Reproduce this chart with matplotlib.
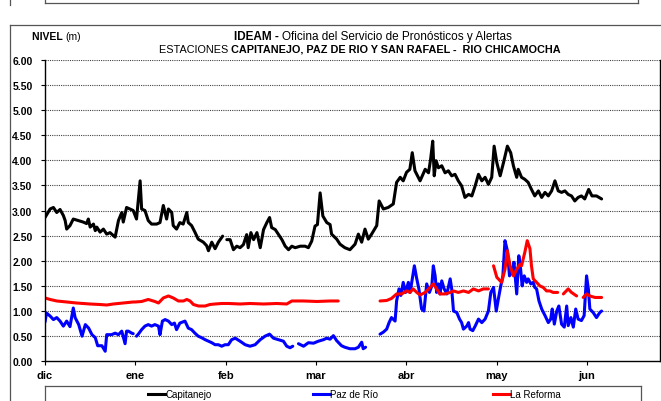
import numpy as np
import matplotlib
matplotlib.use("Agg")
import matplotlib.pyplot as plt
from matplotlib.lines import Line2D

NARROW = ["Liberation Sans Narrow", "Liberation Sans", "DejaVu Sans"]
plt.rcParams["font.family"] = ["Liberation Sans", "DejaVu Sans"]

nan = np.nan

# --- data: day counted from 1 December, level in metres (nan = no data) ---
cap_day = [0, 1.7, 2.8, 3.9, 5, 6.1, 6.7, 7.2, 8.3, 9.4, 11.1, 12.7, 13.8, 14.4, 15,
           16.1, 16.7, 17.2, 18.3, 19.4, 20.5, 21.6, 23.3, 24.4, 25.5, 26, 27.1, 28.2,
           29.3, 30.4, 31.6, 32.1, 33.2, 34.3, 35.4, 37.1, 38.2, 39.3, 40.4, 41, 42.1,
           42.6, 43.7, 44.8, 45.9, 47.1, 47.6, 48.7, 49.8, 50.9, 52.6, 53.7, 54.3, 55.4,
           56.5, 57.6, 59.0, 59.7, 60.4, 61.5, 62.6, 63.7, 64.8, 65.9, 67, 67.5, 68.4,
           69.3, 70.4, 71.5, 72.6, 73.7, 74.6, 75.3, 76.5, 77.6, 78.7, 79.8, 80.9, 82,
           83.1, 84.8, 86.4, 87.5, 88.6, 89.7, 90.5, 91.4, 92.3, 93.6, 94.7, 95.2, 96.9,
           98, 99.6, 101.3, 103, 104.1, 105.2, 106.3, 107.4, 108.5, 110.2, 111, 112.4,
           114, 115.7, 116.8, 118, 119, 120.1, 121.2, 122, 122.9, 124.6, 126.3, 127.4,
           128.1, 128.8, 129.3, 129.9, 130.7, 131.8, 132.9, 134, 135.1, 136.2, 137.3,
           138.4, 139.5, 140.7, 141.8, 142.9, 144, 145.1, 146.2, 147.3, 148.4, 149.2,
           150.1, 151.2, 152.3, 153.6, 154.7, 155.6, 156.7, 157.2, 158.3, 159.4, 160.5,
           161.6, 162.7, 163.9, 165, 166.1, 167.2, 168.3, 169.4, 170.5, 171.6, 172.7,
           173.8, 174.9, 176, 177.1, 178.2, 179.3, 180.6, 181.7, 183.2, 184.9]
cap_val = [2.86, 3.03, 3.06, 2.96, 3.02, 2.9, 2.8, 2.63, 2.70, 2.83, 2.80, 2.77, 2.74,
           2.83, 2.67, 2.73, 2.6, 2.67, 2.57, 2.63, 2.53, 2.56, 2.47, 2.8, 2.96, 2.77,
           3.06, 3.03, 3.0, 2.83, 3.59, 3.03, 3.0, 2.80, 2.73, 2.73, 2.76, 3.1, 2.83,
           3.03, 2.96, 2.7, 2.63, 2.76, 2.73, 2.96, 2.76, 2.7, 2.57, 2.43, 2.37, 2.30,
           2.2, 2.37, 2.24, 2.37, 2.49, nan, 2.42, 2.42, 2.22, 2.29, 2.26, 2.32, 2.52,
           2.26, 2.56, 2.42, 2.56, 2.26, 2.62, 2.76, 2.86, 2.66, 2.62, 2.52, 2.42, 2.29,
           2.22, 2.29, 2.26, 2.29, 2.29, 2.26, 2.39, 2.69, 2.72, 3.35, 2.89, 2.76, 2.72,
           2.53, 2.43, 2.33, 2.26, 2.22, 2.33, 2.53, 2.37, 2.63, 2.43, 2.53, 2.7, 3.19,
           3.03, 3.06, 3.13, 3.56, 3.66, 3.59, 3.76, 3.82, 4.15, 3.79, 3.59, 3.82, 3.75,
           4.02, 4.38, 3.69, 3.99, 3.85, 3.89, 3.75, 3.79, 3.69, 3.72, 3.59, 3.49, 3.26,
           3.32, 3.29, 3.49, 3.72, 3.59, 3.66, 3.52, 3.66, 4.28, 3.95, 3.69, 3.95, 4.28,
           4.15, 3.89, 3.66, 3.82, 3.66, 3.62, 3.56, 3.42, 3.29, 3.39, 3.26, 3.36, 3.29,
           3.39, 3.59, 3.39, 3.36, 3.39, 3.32, 3.29, 3.19, 3.26, 3.29, 3.23, 3.42, 3.29,
           3.29, 3.23]

paz_day = [0, 0.5, 1.7, 2.8, 3.9, 5, 6.1, 7.2, 8.3, 9.4, 10, 11.2, 12.3, 13.4, 14.5,
           15.6, 16.7, 17.5, 18.9, 20, 20.5, 22.1, 23.3, 24.4, 25.5, 26.6, 27.1, 27.7,
           28.8, 29.3, 29.8, 30.4, 31, 32.1, 33.2, 34.3, 35.4, 36.5, 37.7, 38.2, 39,
           39.9, 41, 42.1, 43, 43.7, 44.8, 46.5, 47.6, 48.7, 49.8, 50.9, 52, 53.2, 54.3,
           55.4, 56.5, 57.6, 58.7, 59.8, 60.9, 62, 63.2, 64.8, 66.5, 68.1, 69.8, 71.5,
           73.1, 74.6, 75.9, 77.6, 79.2, 80.3, 81.4, 82.3, 83.2, 84.2, 85.9, 87.5, 89.2,
           90.8, 92.5, 93.6, 94.7, 95.8, 96.9, 98.5, 99.6, 101.3, 103, 104.1, 105.2,
           105.7, 106.5, 109, 111.3, 112.4, 113.5, 114.3, 115.1, 116.3, 116.8, 117.6,
           118.2, 119, 119.8, 120.7, 121.3, 122, 122.7, 123.5, 124.2, 125.1, 125.9,
           126.8, 127.7, 128.5, 129, 129.6, 130.1, 130.7, 131.2, 131.8, 132.6, 133.5,
           134.6, 135.1, 135.7, 136.8, 137.7, 138.4, 139, 140.1, 140.7, 141.2, 142.1,
           142.9, 144, 145.1, 146.2, 147.3, 148.1, 149, 149.9, 150.6, 151.4, 152.1,
           152.8, 153.6, 154.3, 155.1, 155.8, 156.7, 157.4, 158, 158.5, 159.2, 160,
           160.5, 161.4, 162.2, 162.7, 163.3, 164.1, 165, 166.1, 167.2, 168, 168.5,
           169.2, 170, 170.7, 171.6, 172.5, 173.3, 173.8, 174.7, 175.5, 176.3, 177.1,
           178.2, 179.1, 179.9, 180.5, 181, 182.1, 183.2, 184.3, 184.9]
paz_val = [0.78, 0.96, 0.90, 0.83, 0.87, 0.8, 0.70, 0.80, 0.69, 1.06, 0.87, 0.73, 0.5,
           0.73, 0.66, 0.53, 0.47, 0.31, 0.31, 0.20, 0.53, 0.53, 0.56, 0.53, 0.6, 0.35,
           0.60, 0.60, 0.56, 0.55, nan, 0.50, 0.54, 0.63, 0.70, 0.73, 0.70, 0.73, 0.70,
           0.53, 0.80, 0.83, 0.80, 0.73, 0.76, 0.63, 0.76, 0.8, 0.66, 0.63, 0.56, 0.5,
           0.47, 0.43, 0.40, 0.37, 0.33, 0.33, 0.30, 0.33, 0.33, 0.43, 0.46, 0.40, 0.33,
           0.30, 0.33, 0.43, 0.5, 0.54, 0.46, 0.43, 0.40, 0.30, 0.27, 0.30, nan, 0.35,
           0.30, 0.37, 0.36, 0.40, 0.43, 0.46, 0.44, 0.51, 0.41, 0.31, 0.28, 0.25, 0.25,
           0.28, 0.38, 0.25, 0.28, nan, 0.54, 0.58, 0.64, 0.77, 0.87, 0.80, 1.2, 1.44,
           1.31, 1.57, 1.37, 1.57, 1.37, 1.64, 1.9, 1.64, 1.44, 1.04, 1.0, 1.54, 1.37,
           1.50, 1.9, 1.70, 1.37, 1.54, 1.34, 1.60, 1.44, 1.34, 1.64, 1.44, 1.0, 0.97,
           0.84, 0.77, 0.64, 0.70, 0.77, 0.64, 0.61, 0.70, 0.84, 0.77, 0.84, 1.0, 1.37,
           1.47, 1.0, 1.24, 1.50, 1.70, 2.4, 2.2, 1.70, 1.77, 1.97, 1.34, 2.1, 1.83, 1.5,
           1.70, 1.57, 1.64, 1.54, 1.57, 1.47, 1.44, 1.2, 1.04, 0.91, 0.77, 0.84, 1.04,
           0.74, 1.0, 1.1, 0.74, 0.68, 1.1, 0.71, 0.87, 0.68, 1.04, 0.84, 0.81, 0.91,
           1.70, 1.44, 1.04, 0.97, 0.87, 0.97, 1.0]

ref_day = [0, 1.7, 3.9, 7.2, 10.4, 14.9, 18.2, 20.5, 22.7, 26, 29.3, 30, 32.1, 34.3,
           36.5, 37.7, 39.3, 41, 42.6, 44.3, 46, 47.1, 48.2, 49.3, 51, 53.2, 54.8,
           56.5, 58.7, 61, 64.8, 68.1, 72.6, 77, 80.3, 82, 85.9, 90.3, 94.7, 97.4, 100,
           111.3, 113.5, 115.1, 116.8, 118.5, 120.1, 121.2, 122.3, 123.5, 124.6, 126.3,
           127.9, 129, 130.1, 131.2, 132.9, 134.6, 135.7, 137.3, 139, 140.7, 142.3, 144,
           145.6, 147.3, 148.1, 149, 150.1, 151.7, 152.8, 153.6, 154.5, 155.6, 156.7,
           157.8, 158.3, 159.4, 160.2, 161.1, 161.6, 162.2, 163.3, 164.4, 165.5, 166.6,
           167.7, 168.8, 170.3, 171.2, 172.2, 173.8, 174.9, 176.6, 177.7, 178.8, 179.9,
           181, 182.7, 184.9]
ref_val = [1.26, 1.23, 1.2, 1.18, 1.16, 1.14, 1.13, 1.12, 1.14, 1.16, 1.18, 1.18, 1.19,
           1.23, 1.19, 1.16, 1.26, 1.30, 1.26, 1.20, 1.20, 1.23, 1.20, 1.13, 1.10, 1.10,
           1.13, 1.14, 1.15, 1.15, 1.14, 1.15, 1.14, 1.15, 1.14, 1.2, 1.2, 1.19, 1.2,
           1.2, nan, 1.2, 1.21, 1.25, 1.34, 1.34, 1.40, 1.37, 1.44, 1.37, 1.32, 1.37,
           1.47, 1.54, 1.44, 1.34, 1.34, 1.37, 1.40, 1.37, 1.40, 1.37, 1.44, 1.40, 1.44,
           1.44, nan, 1.9, 1.67, 1.57, 1.83, 2.2, 1.90, 1.70, 1.83, 1.93, 1.90, 2.17,
           2.40, 2.24, 1.90, 1.64, 1.57, 1.5, 1.47, 1.40, 1.40, 1.37, 1.37, nan, 1.34,
           1.44, 1.37, 1.30, nan, 1.27, 1.34, 1.30, 1.27, 1.27]

series_names = ["Capitanejo", "Paz de R\u00edo", "La Reforma"]
series_colors = ["#000000", "#0000FF", "#FF0000"]
month_labels = ["dic", "ene", "feb", "mar", "abr", "may", "jun"]
month_pos = [0, 30, 60, 90, 120, 150, 180]
y_ticks = np.arange(0, 6.01, 0.5)

W, H = 661, 402
fig = plt.figure(figsize=(W / 100, H / 100), dpi=100)
fig.patch.set_facecolor("white")


def fx(px):
    return px / W


def fy(py):
    return 1 - py / H


# frame pieces around the chart (as in the bulletin sheet)
for (x1, y1), (x2, y2) in [((45, 0), (45, 4)), ((45, 4), (638, 4)), ((638, 4), (638, 0)),
                           ((10, 0), (10, 6)), ((10, 26), (661, 26)), ((10, 26), (10, 402)),
                           ((45, 387), (641, 387)), ((45, 387), (45, 402)), ((641, 387), (641, 402))]:
    fig.add_artist(Line2D([fx(x1), fx(x2)], [fy(y1), fy(y2)], color="#555555", lw=0.9))

ax = fig.add_axes([fx(45), fy(362.3), fx(660) - fx(45), fy(60.7) - fy(362.3)])

for d, v, c in zip([cap_day, paz_day, ref_day], [cap_val, paz_val, ref_val], series_colors):
    ax.plot(d, v, color=c, lw=2.2, solid_joinstyle="round", solid_capstyle="round")

ax.set_xlim(0, 204.3)
ax.set_ylim(0, 6)
ax.set_yticks(y_ticks)
ax.set_yticklabels([f"{t:.2f}" for t in y_ticks], fontsize=7.5, fontweight="bold")
ax.set_xticks(month_pos)
ax.set_xticklabels(month_labels, fontsize=8, fontweight="bold")
ax.tick_params(axis="both", direction="out", length=3, width=0.8, colors="black")
ax.tick_params(axis="x", pad=3)
ax.tick_params(axis="y", pad=6)
for t in y_ticks[1:]:
    ax.axhline(t, color="#444444", lw=0.8, ls=(0, (1, 1)), zorder=0)
ax.spines["top"].set_visible(False)
for s in ["left", "bottom", "right"]:
    ax.spines[s].set_linewidth(1.0)

renderer = fig.canvas.get_renderer()


def runs_text(x, y, runs, size, ha="center"):
    """Draw text made of (string, weight) runs on one line, in pixel coords."""
    arts = []
    for s, w in runs:
        t = fig.text(0, fy(y), s, fontsize=size, fontweight=w, family=NARROW,
                     va="center", ha="left")
        arts.append(t)
    widths = [a.get_window_extent(renderer).width for a in arts]
    total = sum(widths)
    x0 = x - total / 2 if ha == "center" else x
    for a, wd in zip(arts, widths):
        a.set_x(fx(x0))
        x0 += wd


runs_text(32, 37, [("NIVEL ", "bold"), ("(m)", "normal")], 7.5, ha="left")
runs_text(373, 37, [("IDEAM - ", "bold"), ("Oficina del Servicio de Pron\u00f3sticos y Alertas", "normal")], 8.5)
runs_text(360, 50, [("ESTACIONES ", "normal"),
                    ("CAPITANEJO, PAZ DE RIO Y SAN RAFAEL -  RIO CHICAMOCHA", "bold")], 7.8)

# legend
for name, c, lx in zip(series_names, series_colors, [148, 313, 493]):
    fig.add_artist(Line2D([fx(lx), fx(lx + 17)], [fy(395), fy(395)], color=c, lw=2.2))
    fig.text(fx(lx + 17), fy(395), name, fontsize=7, family=NARROW, va="center", ha="left")

fig.savefig("out.png", dpi=100)
